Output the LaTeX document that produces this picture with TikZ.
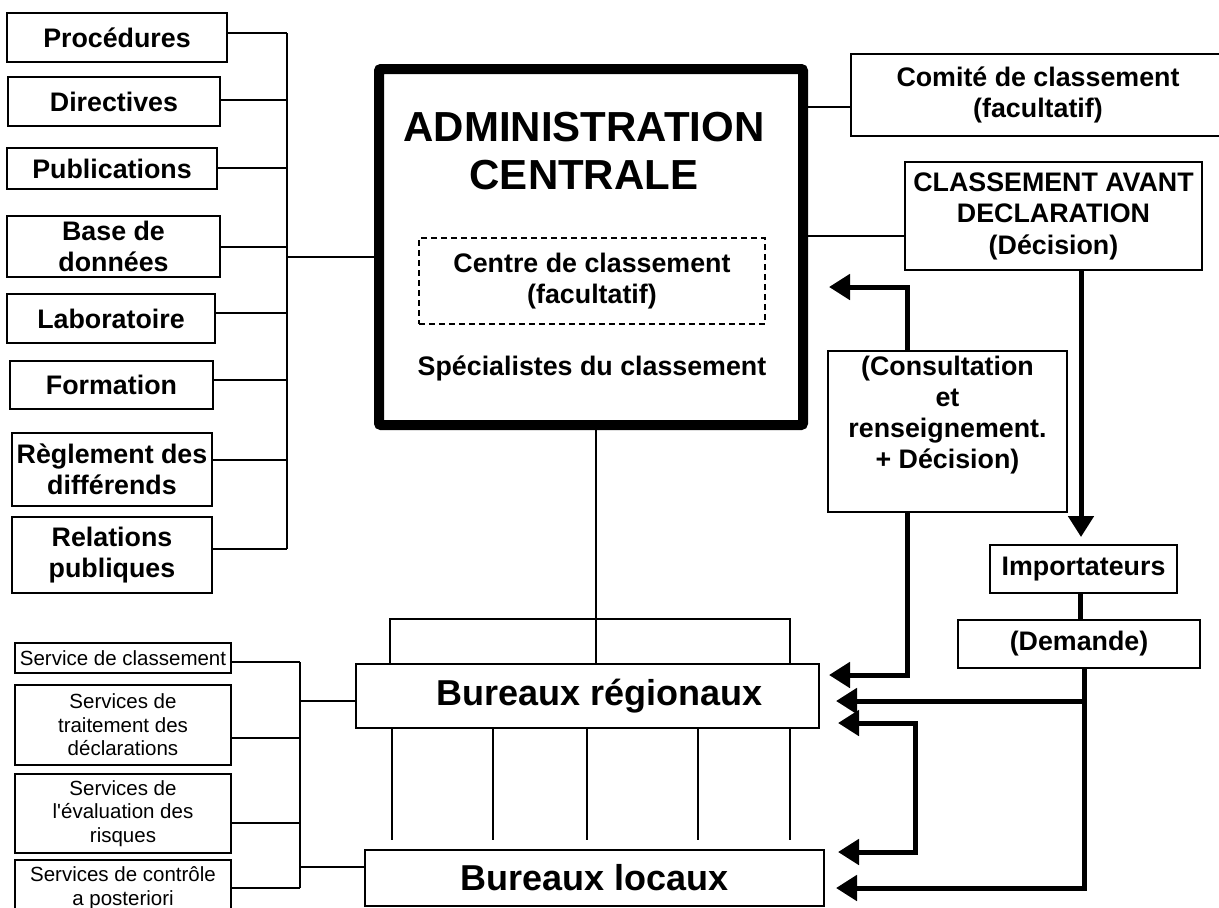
\documentclass[tikz,border=0pt]{standalone}
\usepackage{fontspec}
\setmainfont{Liberation Sans}
\usetikzlibrary{arrows.meta}

\begin{document}
\begin{tikzpicture}[x=1pt,y=-1pt,
	box/.style={draw,line width=1.6pt,inner sep=0pt,outer sep=0pt,align=center,font=\bfseries\fontsize{26.8}{31.5}\selectfont},
	svcbox/.style={draw,line width=1.6pt,inner sep=0pt,outer sep=0pt,align=center,minimum width=216pt,font=\fontsize{20.5}{23.5}\selectfont},
	link/.style={line width=1.3pt},
	bigarrow/.style={line width=5pt,-{Triangle[length=21pt,width=25pt]}}]
	\useasboundingbox (0,0) rectangle (1219,908);
	\clip (0,0) rectangle (1219,908);

	%LEFT COLUMN
	\node[box,minimum width=220pt,minimum height=49pt] (proc) at (117,37.5) {Procédures};
	\node[box,minimum width=212pt,minimum height=49pt] (dir) at (114,101.5) {Directives};
	\node[box,minimum width=210pt,minimum height=41pt] (pub) at (112,168.5) {Publications};
	\node[box,minimum width=213pt,minimum height=61pt] (base) at (113.5,246.5) {Base de\\données};
	\node[box,minimum width=208pt,minimum height=49pt] (labo) at (111,318.5) {Laboratoire};
	\node[box,minimum width=203pt,minimum height=48pt] (form) at (111.5,385) {Formation};
	\node[box,minimum width=200pt,minimum height=73pt] (regl) at (112,469.5) {Règlement des\\différends};
	\node[box,minimum width=200pt,minimum height=76pt] (relp) at (112,555) {Relations\\publiques};

	%CENTRAL ADMINISTRATION
	\node[draw,line width=10pt,rounded corners=2pt,inner sep=0pt,outer sep=0pt,minimum width=424pt,minimum height=356pt] (admin) at (591,247) {};
	\node[font=\bfseries\fontsize{42}{48}\selectfont,align=center] (admtitle) at (584,151) {ADMINISTRATION\\CENTRALE};
	\node[box,dashed,dash pattern=on 6pt off 4pt,line width=1.5pt,minimum width=346pt,minimum height=86pt] (centre) at (592,281) {Centre de classement\\(facultatif)};
	\node[font=\bfseries\fontsize{26.8}{31.5}\selectfont] (spec) at (592,368) {Spécialistes du classement};

	%RIGHT COLUMN
	\node[box,minimum width=374pt,minimum height=82pt] (comite) at (1038,95) {Comité de classement\\(facultatif)};
	\node[box,minimum width=297pt,minimum height=108pt] (avant) at (1053.5,216) {CLASSEMENT AVANT\\DECLARATION\\(Décision)};
	\node[box,minimum width=239pt,minimum height=161pt] (consult) at (947.5,431.5) {};
	\node[font=\bfseries\fontsize{26.8}{31}\selectfont,align=center] (consulttxt) at (947.5,415) {(Consultation\\et\\renseignement.\\+ Décision)};
	\node[box,minimum width=187pt,minimum height=48pt] (imp) at (1083.5,569) {Importateurs};
	\node[box,minimum width=242pt,minimum height=48pt] (dem) at (1079,644) {(Demande)};

	%OFFICES
	\node[box,font=\bfseries\fontsize{36}{40}\selectfont,minimum width=463pt,minimum height=64pt] (regional) at (587.5,696) {\hspace*{25pt}Bureaux régionaux};
	\node[box,font=\bfseries\fontsize{36}{40}\selectfont,minimum width=459pt,minimum height=56pt] (local) at (594.5,878) {Bureaux locaux};

	%SERVICES
	\node[svcbox,minimum height=30pt] (svcclass) at (123,658) {Service de classement};
	\node[svcbox,minimum height=80pt] (svctrait) at (123,725) {Services de\\traitement des\\déclarations};
	\node[svcbox,minimum height=79pt] (svceval) at (123,813.5) {Services de\\l\textquotesingle évaluation des\\risques};
	\node[svcbox,minimum height=56pt] (svcctrl) at (123,888) {Services de contrôle\\a posteriori};

	%THIN LINKS
	\coordinate (busa) at (287,0);
	\coordinate (busb) at (300,0);
	\coordinate (brk) at (591,619);
	\foreach \n/\dy in {proc/4.5,dir/1.5,pub/0.5,base/-0.5,labo/5.5,form/5,regl/9.5,relp/6}
		\draw[link] ([yshift=\dy pt]\n.east) -- ([yshift=\dy pt]\n.east -| busa);
	\draw[link] ([yshift=4.5pt]proc.east -| busa) -- ([yshift=6pt]relp.east -| busa);
	\draw[link] ([yshift=-10pt]admin.west -| busa) -- ([yshift=-10pt]admin.west);
	\draw[link] ([yshift=-12pt]comite.west) -- ([yshift=-12pt]comite.west -| admin.east);
	\draw[link] ([yshift=-20pt]avant.west) -- ([yshift=-20pt]avant.west -| admin.east);
	\draw[link] (admin.south) ++(5,0) -- ([xshift=8.5pt]regional.north);
	\draw[link] ([xshift=-197.5pt]regional.north) |- (brk) -| ([xshift=202.5pt]regional.north);
	\foreach \dx in {-195.5,-94.5,-0.5,110.5,202.5}
		\draw[link] ([xshift=\dx pt]regional.south) -- ++(0,112);
	\foreach \n/\dy in {svcclass/-4,svctrait/-13,svceval/-9.5,svcctrl/0}
		\draw[link] ([yshift=\dy pt]\n.east) -- ([yshift=\dy pt]\n.east -| busb);
	\draw[link] ([yshift=-4pt]svcclass.east -| busb) -- (svcctrl.east -| busb);
	\draw[link] ([yshift=-5pt]regional.west -| busb) -- ([yshift=-5pt]regional.west);
	\draw[link] ([yshift=11pt]local.west -| busb) -- ([yshift=11pt]local.west);

	%THICK ARROWS
	\coordinate (clink) at (907,0);
	\coordinate (split) at (1084,701);
	\draw[bigarrow,shorten >=8pt] ([xshift=-2.5pt]imp.north |- avant.south) -- ([xshift=-2.5pt]imp.north);
	\draw[line width=5pt] ([xshift=-3pt]imp.south) -- ([xshift=-3pt]imp.south |- dem.north);
	\draw[bigarrow,shorten >=26pt] (consult.north -| clink) |- ([yshift=-40pt]admin.east);
	\draw[bigarrow,shorten >=10pt] (consult.south -| clink) |- ([yshift=21pt]regional.east);
	\draw[bigarrow,shorten >=17pt] (dem.south -| split) -- (split) -- ([yshift=-5pt]regional.east);
	\draw[bigarrow,shorten >=12pt] (split) |- ([yshift=-10pt]local.east);
	\draw[bigarrow,{Triangle[length=21pt,width=25pt]}-{Triangle[length=21pt,width=25pt]},shorten <=19pt,shorten >=14pt] ([yshift=-27pt]regional.east) -- ++(96,0) |- ([yshift=26pt]local.east);
\end{tikzpicture}
\end{document}
